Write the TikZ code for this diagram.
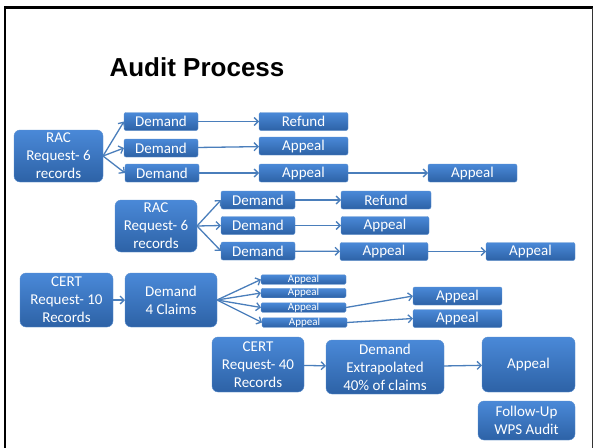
\documentclass[tikz,border=0pt]{standalone}
\usepackage{fontspec}
\setmainfont{Carlito}
\newfontfamily\titlefont{Liberation Sans}
\usetikzlibrary{positioning,arrows.meta}
\definecolor{boxtop}{HTML}{4A89D8}
\definecolor{boxbot}{HTML}{2D62A6}
\definecolor{boxline}{HTML}{5B8FCF}
\definecolor{arrowblue}{HTML}{4A7EBB}

\begin{document}
\begin{tikzpicture}[
    x=1pt, y=-1pt,
    node distance=10pt and 20pt,
 mybox/.style = {
        draw=boxline, line width=.4pt, top color=boxtop, bottom color=boxbot,
        text=white, align=center, inner sep=0pt, outer sep=0pt,
        font=\fontsize{15}{18}\selectfont},
mysmall/.style = {
        mybox, rounded corners=2pt, minimum width=74pt, minimum height=18pt},
 mytiny/.style = {
        mybox, rounded corners=1.5pt, minimum width=85pt, minimum height=9.5pt,
        font=\fontsize{11}{11}\selectfont},
  mybig/.style = {
        mybox, rounded corners=6pt, minimum height=54pt},
  arrow/.style = {draw=arrowblue, line width=1.3pt,
        -{Straight Barb[length=4pt,width=8pt]}}
                    ]
\useasboundingbox (0,0) rectangle (594,447);
% the frame
\draw[line width=2.5pt] (5,452) -- (5,7.5) -- (592.5,7.5);
\draw[line width=1pt,black!80] (592.5,7.5) -- (592.5,452);
% the title
\node (title) at (197,67) {\titlefont\bfseries\fontsize{26}{26}\selectfont Audit Process};
% the first RAC request
\node (rac1) [mybig, minimum width=89pt, minimum height=52pt] at (58.5,156)
                                    {RAC\\Request- 6\\records};
\node (d1a) [mysmall] at (161,121.5)  {Demand};
\node (d1b) [mysmall] at (161,148)    {Demand};
\node (d1c) [mysmall] at (162,173)    {Demand};
\node (r1)  [mysmall, minimum width=89pt] at (303.5,121.5) {Refund};
\node (a1b) [mysmall, minimum width=89pt] at (303.5,146)   {Appeal};
\node (a1c) [mysmall, minimum width=89pt] at (303.5,173)   {Appeal};
\node (a1d) [mysmall, minimum width=89pt, right=80pt of a1c] {Appeal};
% the second RAC request
\node (rac2) [mybig, minimum width=82pt, minimum height=52pt] at (156,226)
                                    {RAC\\Request- 6\\records};
\node (d2a) [mysmall] at (258,200)    {Demand};
\node (d2b) [mysmall] at (258,225.5)  {Demand};
\node (d2c) [mysmall] at (258,251)    {Demand};
\node (r2)  [mysmall, minimum width=90pt] at (386,200)   {Refund};
\node (a2b) [mysmall, minimum width=88pt] at (385,225.5) {Appeal};
\node (a2c) [mysmall, minimum width=88pt] at (384,251.5) {Appeal};
\node (a2d) [mysmall, minimum width=89pt, right=58pt of a2c] {Appeal};
% the first CERT request
\node (cert1) [mybig, minimum width=93pt] at (66.5,300)
                                    {CERT\\Request- 10\\Records};
\node (d3) [mybig, minimum width=92pt, right=12pt of cert1] {Demand\\4 Claims};
\node (t1) [mytiny] at (303.5,279.5) {Appeal};
\node (t2) [mytiny] at (303.5,293)   {Appeal};
\node (t3) [mytiny] at (303.5,307.5) {Appeal};
\node (t4) [mytiny] at (304.5,322.5) {Appeal};
\node (a3a) [mysmall, minimum width=89pt] at (457.5,296)   {Appeal};
\node (a3b) [mysmall, minimum width=89pt] at (457.5,318.5) {Appeal};
% the second CERT request
\node (cert2) [mybig, minimum width=92pt, minimum height=55pt] at (258,364.5)
                                    {CERT\\Request- 40\\Records};
\node (d4) [mybig, minimum width=118pt] at (385,367)
                                    {Demand\\Extrapolated\\40\% of claims};
\node (a4) [mybig, minimum width=93pt, minimum height=55pt] at (528.5,364.5) {Appeal};
\node (fu) [mybig, minimum width=97pt, minimum height=39pt,
            below left=9pt and 0pt of a4.south east] {Follow-Up\\WPS Audit};
% the arrows
\foreach \n in {d1a,d1b,d1c}
    \draw[arrow] (rac1.east) -- (\n.west);
\draw[arrow] (d1a) -- (r1);
\draw[arrow] (d1b) -- (a1b);
\draw[arrow] (d1c) -- (a1c);
\draw[arrow] (a1c) -- (a1d);
\foreach \n in {d2a,d2b,d2c}
    \draw[arrow] (rac2.east) -- (\n.west);
\draw[arrow] (d2a) -- (r2);
\draw[arrow] (d2b) -- (a2b);
\draw[arrow] (d2c) -- (a2c);
\draw[arrow] (a2c) -- (a2d);
\draw[arrow] (cert1) -- (d3);
\foreach \n in {t1,t2,t3,t4}
    \draw[arrow] (d3.east) -- (\n.west);
\draw[arrow] (t3.east) -- (a3a.west);
\draw[arrow] (t4.east) -- (a3b.west);
\draw[arrow] (cert2) -- (d4);
\draw[arrow] (d4) -- (a4);
\end{tikzpicture}
\end{document}
